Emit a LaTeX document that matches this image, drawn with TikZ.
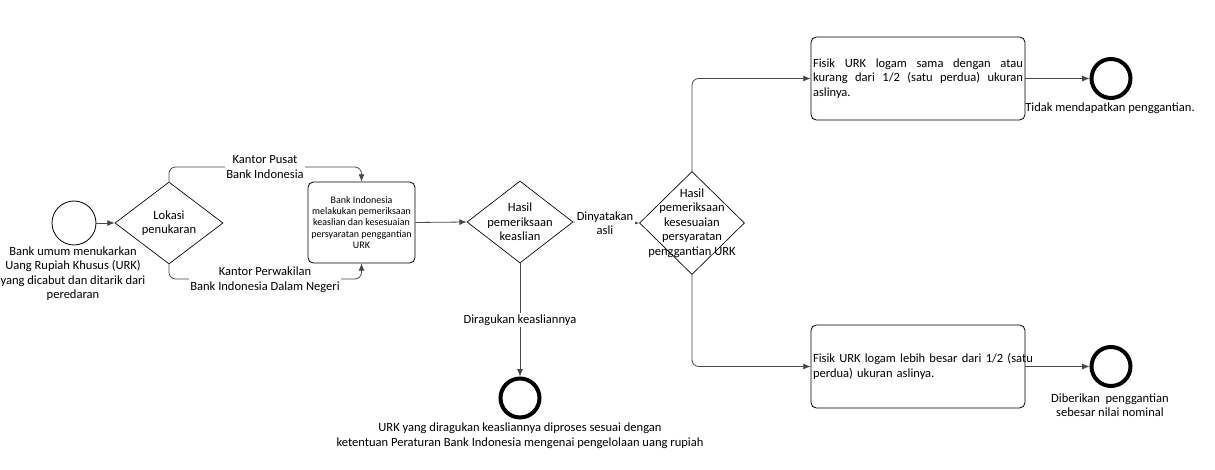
\documentclass[tikz,border=0pt]{standalone}
\usepackage{fontspec}
\setmainfont{Carlito}
\usetikzlibrary{shapes.geometric,arrows.meta}
\begin{document}
\begin{tikzpicture}[x=0.75pt,y=-0.75pt,
  every node/.style={font=\fontsize{9.4}{10.9}\selectfont, inner sep=1pt},
  conn/.style={draw=black!72, line width=0.6pt, -{Latex[length=5.5pt,width=4.5pt]}},
  dia/.style={diamond, draw, line width=0.5pt, inner sep=0pt},
  task/.style={draw, rounded corners=4pt, line width=0.6pt},
  endev/.style={circle, draw, line width=3pt, minimum size=29.25pt, inner sep=0pt},
  lbl/.style={fill=white, align=center, inner sep=1pt}]
\useasboundingbox (0,0) rectangle (1215,470);
% start
\node[circle, draw, line width=0.6pt, minimum size=33pt, inner sep=0pt] (s) at (74,223) {};
\node[align=center, anchor=north] (sl) at (73,245) {Bank umum menukarkan\\Uang Rupiah Khusus (URK)\\yang dicabut dan ditarik dari\\peredaran};
% gateways
\node[dia, minimum width=81pt, minimum height=61.5pt, label={[align=center]center:Lokasi\\penukaran}] (d1) at (169,223) {};
\node[dia, minimum width=79.5pt, minimum height=61.5pt, label={[align=center]center:Hasil\\pemeriksaan\\keaslian}] (d2) at (520,222) {};
\node[dia, minimum width=78.75pt, minimum height=77.25pt, label={[align=center]center:Hasil\\pemeriksaan\\kesesuaian\\persyaratan\\penggantian URK}] (d3) at (692,223) {};
% tasks
\node[task, minimum width=80.25pt, minimum height=60.75pt, inner sep=0pt, align=center, font=\fontsize{7.5}{8.3}\selectfont] (b1) at (361.5,222.5) {Bank Indonesia\\melakukan pemeriksaan\\keaslian dan kesesuaian\\persyaratan penggantian\\URK};
\node[task, text width=157.5pt, inner xsep=1.5pt, inner ysep=0pt, minimum height=62.25pt, align=justify] (b3) at (918,78.5) {Fisik URK logam sama dengan atau\linebreak kurang dari 1/2 (satu perdua) ukuran\linebreak aslinya.};
\node[task, text width=157.5pt, inner xsep=1.5pt, inner ysep=0pt, minimum height=62.25pt, align=left] (b4) at (918,366.5) {\mbox{Fisik URK logam lebih besar dari 1/2 (satu}\\perdua) ukuran aslinya.};
% end events
\node[endev] (e1) at (1111,78.5) {};
\node[endev] (e2) at (1111,366.5) {};
\node[endev] (e3) at (520,398) {};
\node[align=center] (e1l) at (1110,108) {Tidak mendapatkan penggantian.};
\node[align=center] (e2l) at (1110,405) {Diberikan\ \ penggantian\\sebesar nilai nominal};
\node[align=center] (e3l) at (520,435.5) {URK yang diragukan keasliannya diproses sesuai dengan\\ketentuan Peraturan Bank Indonesia mengenai pengelolaan uang rupiah};
% connectors
\coordinate (ty) at (0,167);
\coordinate (by) at (0,279);
\draw[conn] (s) -- (d1.west);
\draw[conn, rounded corners=5pt] (d1.north) -- (d1.north |- ty) -- (b1.north |- ty) -- (b1.north);
\draw[conn, rounded corners=5pt] (d1.south) -- (d1.south |- by) -- (b1.south |- by) -- (b1.south);
\draw[conn] (b1.east) -- (d2.west);
\draw[conn] (d2.east) -- (d3.west);
\draw[conn] (d2.south) -- (e3);
\draw[conn, rounded corners=5pt] (d3.north) |- (b3.west);
\draw[conn, rounded corners=5pt] (d3.south) |- (b4.west);
\draw[conn] (b3.east) -- (e1);
\draw[conn] (b4.east) -- (e2);
% connector labels
\node[lbl] (l1) at (265,167) {Kantor Pusat\\Bank Indonesia};
\node[lbl] (l2) at (265,279.5) {Kantor Perwakilan\\Bank Indonesia Dalam Negeri};
\node[lbl] (l3) at (605,223) {Dinyatakan\\asli};
\node[lbl] (l4) at (520,320) {Diragukan keasliannya};
\end{tikzpicture}
\end{document}
